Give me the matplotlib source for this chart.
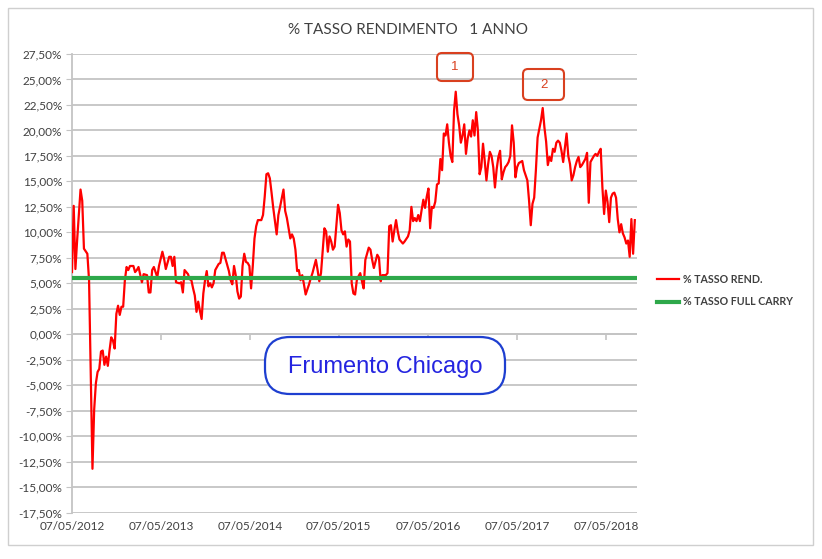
import matplotlib
matplotlib.use('Agg')
import matplotlib.pyplot as plt
from matplotlib.patches import FancyBboxPatch, Rectangle
from matplotlib.ticker import FuncFormatter, MultipleLocator
import matplotlib.dates as mdates
import datetime as dt

# ---------------- data ----------------
start_date = dt.date(2012, 5, 7)
# weekly observations: week index since start_date
weeks = [0, 1, 2, 3, 5, 6, 7, 9, 10, 12, 13, 14, 15, 16, 17, 18, 19, 20, 21, 22,
         23, 24, 25, 26, 27, 28, 29, 30, 31, 32, 33, 34, 36, 37, 38, 39, 41, 42, 44, 45,
         46, 47, 48, 50, 51, 52, 53, 54, 55, 57, 58, 59, 60, 61, 63, 64, 65, 66, 68, 69,
         70, 71, 72, 73, 74, 75, 76, 77, 78, 79, 80, 81,
         82, 83, 84, 86, 87, 88, 89, 91, 92, 93, 94, 95, 96, 97, 98, 99, 100, 101, 102, 103,
         104, 105, 106, 107, 108, 109, 111, 112, 113, 114, 115, 116, 117, 118, 120, 121, 122,
         124, 125, 126, 128, 129, 130, 131, 132, 133, 134, 135, 136, 137, 139, 140,
         141, 143, 144, 145, 146, 148, 149, 150, 151, 152, 153, 154, 155, 156, 157, 158, 159,
         160, 161, 162, 163, 164, 165, 166, 167, 168, 169, 170, 171, 172, 174, 175, 176, 177,
         179, 180, 181, 182, 184, 185, 186, 187, 188, 189, 190, 191, 192, 194, 195, 197, 198,
         199, 200, 201, 202, 203, 204, 205, 206, 207, 208, 209, 210, 211, 212, 213, 214, 215,
         216, 217, 218, 219, 220, 221, 222, 223, 224, 225, 226, 227, 228, 229, 230, 231, 232,
         233, 234, 235, 236, 237, 238, 239, 240, 241, 242, 243, 244, 245, 246, 247, 248, 249,
         250, 251, 252, 253, 254, 255, 256, 257, 258, 259, 260, 261, 262, 264, 265, 267, 268,
         269, 270, 271, 272, 273, 275, 276, 277, 278, 279, 280, 281, 282, 283, 284, 285, 286,
         287, 288, 289, 290, 291, 292, 293, 294, 295, 296, 297, 298, 299, 300, 301, 302, 303,
         304, 305, 306, 307, 308, 309, 310, 311, 312, 313, 314, 315, 316, 317, 318, 319, 320,
         321, 322, 323, 324, 325, 326, 327, 328, 329, 330]
# % TASSO REND. (percent)
tasso_rend = [6.1, 12.6, 6.4, 9.2, 14.2, 13.1, 8.4, 7.9, 5.3, -13.2, -7.4, -4.8, -3.7, -3.4, -1.7, -1.6, -3.0, -2.2, -3.1, -1.6,
              -0.3, -0.6, -1.4, 2.0, 2.8, 1.9, 2.7, 2.7, 5.3, 6.6, 6.3, 6.7, 6.7, 6.1, 6.3, 6.6, 5.1, 5.9, 5.8, 4.1,
              4.1, 6.3, 6.6, 5.6, 6.7, 7.4, 8.1, 7.4, 6.4, 7.6, 7.6, 6.7, 7.6, 5.1, 5.0, 5.1, 4.1, 6.3, 5.9, 5.4,
              5.3, 4.5, 3.8, 2.2, 3.2, 2.3, 1.5, 4.0, 5.3, 6.2, 4.7, 5.0,
              4.6, 5.0, 6.3, 6.9, 7.0, 8.0, 8.0, 6.8, 6.2, 5.3, 4.9, 6.7, 5.8, 4.2, 3.5, 3.7, 6.7, 7.9, 7.1, 7.0,
              6.7, 4.5, 6.7, 9.4, 10.6, 11.2, 11.2, 11.7, 13.5, 15.7, 15.8, 15.3, 13.9, 12.4, 9.8, 11.7, 12.5,
              14.2, 12.1, 11.4, 9.4, 9.8, 9.4, 8.3, 6.2, 6.3, 5.3, 5.8, 4.9, 3.9, 4.9, 5.5,
              6.0, 7.3, 6.3, 5.2, 6.0, 10.4, 10.1, 8.1, 9.6, 9.1, 8.3, 8.6, 10.6, 12.7, 11.9, 10.2, 9.8,
              10.1, 8.6, 9.3, 9.1, 5.0, 4.0, 3.9, 5.3, 5.7, 6.0, 5.2, 4.5, 7.3, 8.5, 8.3, 7.3, 6.5,
              7.8, 7.5, 5.2, 5.8, 5.8, 6.0, 10.6, 10.7, 9.1, 10.2, 11.2, 10.1, 9.3, 8.9, 9.1, 9.6, 10.2,
              12.5, 11.1, 11.4, 11.1, 11.7, 11.1, 12.2, 13.2, 12.4, 13.5, 14.3, 10.4, 12.5, 12.4, 13.0, 14.7, 14.8,
              17.2, 16.1, 19.7, 19.5, 20.6, 18.8, 17.5, 16.9, 21.9, 23.8, 21.6, 20.5, 18.8, 19.5, 20.6, 17.7, 19.2,
              20.0, 19.4, 21.0, 19.5, 21.8, 20.0, 15.7, 16.4, 18.7, 17.0, 15.1, 16.7, 17.9, 17.5, 16.4, 14.4, 16.2,
              17.4, 18.0, 15.2, 15.9, 16.4, 16.6, 16.9, 17.5, 20.5, 18.8, 15.4, 16.4, 16.8, 17.0, 16.1, 15.1, 13.1,
              10.7, 12.8, 13.4, 16.1, 19.3, 21.0, 22.2, 20.3, 18.9, 16.6, 17.4, 17.0, 18.2, 17.9, 18.8, 19.0, 18.8,
              18.0, 16.9, 18.3, 19.7, 17.5, 16.7, 15.1, 15.6, 16.4, 17.0, 17.4, 16.4, 16.6, 16.9, 17.2, 17.8, 12.9,
              16.9, 17.2, 17.5, 17.7, 17.5, 17.9, 18.2, 14.4, 11.8, 14.1, 13.0, 11.0, 13.4, 13.8, 13.9, 13.4, 11.3,
              10.0, 10.8, 9.9, 9.5, 8.9, 9.2, 7.6, 11.3, 7.9, 11.2]
full_carry = 5.5  # % TASSO FULL CARRY

title = "% TASSO RENDIMENTO   1 ANNO"
series_labels = ["% TASSO REND.", "% TASSO FULL CARRY"]
tick_years = [2012, 2013, 2014, 2015, 2016, 2017, 2018]
peak_labels = ["1", "2"]
note_text = "Frumento Chicago"

# ---------------- figure ----------------
FONT = ['Lato', 'DejaVu Sans']
plt.rcParams['font.family'] = FONT

W, H = 822, 559
fig = plt.figure(figsize=(W / 100, H / 100), dpi=100)
fig.patch.set_facecolor('white')

# outer frame
fig.add_artist(Rectangle((0.08, 0.14), 8.05, 5.37, transform=fig.dpi_scale_trans,
                         fill=False, edgecolor='#CFCFCF', linewidth=1.0))

ax = fig.add_axes([72 / W, 1 - 512.6 / H, (637 - 72) / W, (512.6 - 54) / H])

dates = [start_date + dt.timedelta(weeks=w) for w in weeks]
ax.plot(dates, tasso_rend, color='#FF0000', linewidth=1.6, label=series_labels[0], zorder=3)
ax.plot(dates, [full_carry] * len(dates), color='#2EA84A', linewidth=3.0,
        label=series_labels[1], zorder=4)

ax.set_ylim(-17.5, 27.5)
ax.set_xlim(start_date, start_date + dt.timedelta(days=2319))
ax.yaxis.set_major_locator(MultipleLocator(2.5))
ax.yaxis.set_major_formatter(FuncFormatter(lambda v, p: f"{v:.2f}%".replace('.', ',')))
ax.grid(axis='y', color='#C4C4C4', linewidth=1.3)
ax.set_axisbelow(True)

tick_dates = [dt.date(y, 5, 7) for y in tick_years]
ax.set_xticks(tick_dates)
ax.xaxis.set_major_formatter(mdates.DateFormatter('%d/%m/%Y'))
ax.tick_params(axis='x', length=0, pad=6, labelsize=8.5, labelcolor='#404040')
ax.tick_params(axis='y', length=4, color='#C4C4C4', labelsize=8.5, labelcolor='#404040', pad=3)

for s in ['top', 'right', 'bottom']:
    ax.spines[s].set_visible(False)
ax.spines['left'].set_color('#C4C4C4')
ax.spines['left'].set_linewidth(1.3)

# horizontal category axis at 0 with tick marks
ax.axhline(0, color='#C4C4C4', linewidth=1.3, zorder=1)
ax.plot(tick_dates, [0] * len(tick_dates), linestyle='none', marker=3, markersize=4,
        color='#C4C4C4', markeredgewidth=1.2, zorder=1)

fig.text(408 / W, 1 - 30 / H, title, ha='center', va='center', fontsize=11, color='#404040')

leg = fig.legend(handles=ax.get_lines()[:2], labels=series_labels, loc='upper left',
                 bbox_to_anchor=(647 / W, 1 - 264 / H), frameon=False,
                 handlelength=2.1, handletextpad=0.4, labelspacing=1.1,
                 prop={'family': FONT, 'weight': 'bold', 'size': 7.7})
for t in leg.get_texts():
    t.set_color('#404040')

# peak boxes
peak_color = '#D9401F'
for lab, (x0, y0, w, h) in zip(peak_labels, [(437, 53, 36, 28), (523, 69, 41, 31)]):
    fig.add_artist(FancyBboxPatch((x0 / 100, (H - y0 - h) / 100), w / 100, h / 100,
                                  boxstyle='round,pad=0,rounding_size=0.05',
                                  transform=fig.dpi_scale_trans, fill=False,
                                  edgecolor=peak_color, linewidth=1.5))
    fig.text((x0 + w / 2) / W, 1 - (y0 + h / 2) / H, lab, ha='center', va='center',
             fontsize=9.5, color=peak_color, family='Liberation Sans')

# note box
fig.add_artist(FancyBboxPatch((265 / 100, (H - 394) / 100), 240 / 100, 57 / 100,
                              boxstyle='round,pad=0,rounding_size=0.25',
                              transform=fig.dpi_scale_trans, facecolor='white',
                              edgecolor='#1E3FD0', linewidth=1.6))
fig.text(385 / W, 1 - 367 / H, note_text, ha='center', va='center', fontsize=17,
         color='#2525E0', family='Liberation Sans')

fig.savefig('out.png', dpi=100)
